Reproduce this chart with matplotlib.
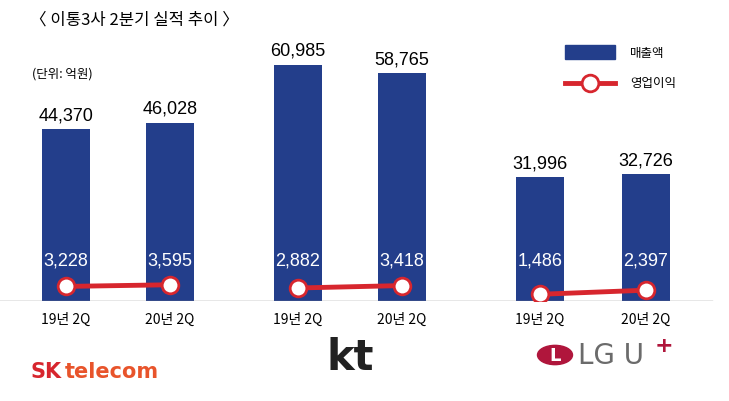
import matplotlib.pyplot as plt
from matplotlib.patches import Circle

plt.rcParams['font.family'] = ['Noto Sans CJK KR', 'DejaVu Sans']

periods = ['19년 2Q', '20년 2Q'] * 3
sales = [44370, 46028, 60985, 58765, 31996, 32726]
profit = [3228, 3595, 2882, 3418, 1486, 2397]
xpos = [66, 170, 298, 402, 540, 646]
blue = '#233e8b'
red = '#d7262e'

fig = plt.figure(figsize=(7.29, 4.02), dpi=100)
ax = fig.add_axes([0, 100 / 402, 1, 280 / 402])
ax.set_xlim(0, 729)
ax.set_ylim(0, 72231)
ax.axis('off')

ax.bar(xpos, sales, width=48, color=blue, zorder=2)
for x, v in zip(xpos, sales):
    ax.text(x, v + 1500, f'{v:,}', ha='center', va='bottom', fontsize=13,
            family='Liberation Sans')
ax.axhline(0, xmin=0, xmax=712 / 729, color='#888888', lw=1, zorder=3)

ax2 = ax.twinx()
ax2.set_ylim(0, 62000)
ax2.axis('off')
for i in range(0, 6, 2):
    ax2.plot(xpos[i:i + 2], profit[i:i + 2], color=red, lw=3.5, zorder=4,
             marker='o', ms=12, mfc='white', mec=red, mew=2)
for x, v in zip(xpos, profit):
    ax2.text(x, 7200, f'{v:,}', ha='center', va='bottom', fontsize=13,
             color='white', family='Liberation Sans', zorder=5)

for x, p in zip(xpos, periods):
    fig.text(x / 729, 1 - 320 / 402, p, ha='center', va='center', fontsize=10)

fig.text(30 / 729, 1 - 20 / 402, '〈 이통3사 2분기 실적 추이 〉', fontsize=12,
         va='center', ha='left')
fig.text(32 / 729, 1 - 74 / 402, '(단위: 억원)', fontsize=9, va='center')

# legend
fig.patches.append(plt.Rectangle((565 / 729, 1 - 60 / 402), 50 / 729, 14 / 402,
                                 transform=fig.transFigure, color=blue))
fig.text(630 / 729, 1 - 53 / 402, '매출액', fontsize=9, va='center')
fig.lines.append(plt.Line2D([565 / 729, 615 / 729], [1 - 84 / 402] * 2,
                            transform=fig.transFigure, color=red, lw=3.5,
                            marker='o', markevery=[0], ms=0))
fig.lines.append(plt.Line2D([590 / 729], [1 - 84 / 402], transform=fig.transFigure,
                            marker='o', ms=12, mfc='white', mec=red, mew=2))
fig.text(630 / 729, 1 - 84 / 402, '영업이익', fontsize=9, va='center')

# logos as text
fig.text(30 / 729, 1 - 372 / 402, 'SK', fontsize=15, fontweight='bold',
         color=red, va='center', family='DejaVu Sans')
fig.text(65 / 729, 1 - 372 / 402, 'telecom', fontsize=15, fontweight='bold',
         color='#e8542b', va='center', family='DejaVu Sans')
fig.text(350 / 729, 1 - 358 / 402, 'kt', fontsize=30, fontweight='bold',
         color='#222222', ha='center', va='center', family='DejaVu Sans')
fig.patches.append(Circle((555 / 729, 1 - 356 / 402), 0.024, transform=fig.transFigure,
                          color='#b0163c'))
fig.text(555 / 729, 1 - 356 / 402, 'L', fontsize=13, color='white', ha='center',
         va='center', fontweight='bold', family='DejaVu Sans')
fig.text(578 / 729, 1 - 356 / 402, 'LG U', fontsize=20, color='#6b6b6b',
         va='center', family='DejaVu Sans')
fig.text(655 / 729, 1 - 346 / 402, '+', fontsize=16, color='#b0163c',
         fontweight='bold', va='center', family='DejaVu Sans')

fig.savefig('out.png', dpi=100)
